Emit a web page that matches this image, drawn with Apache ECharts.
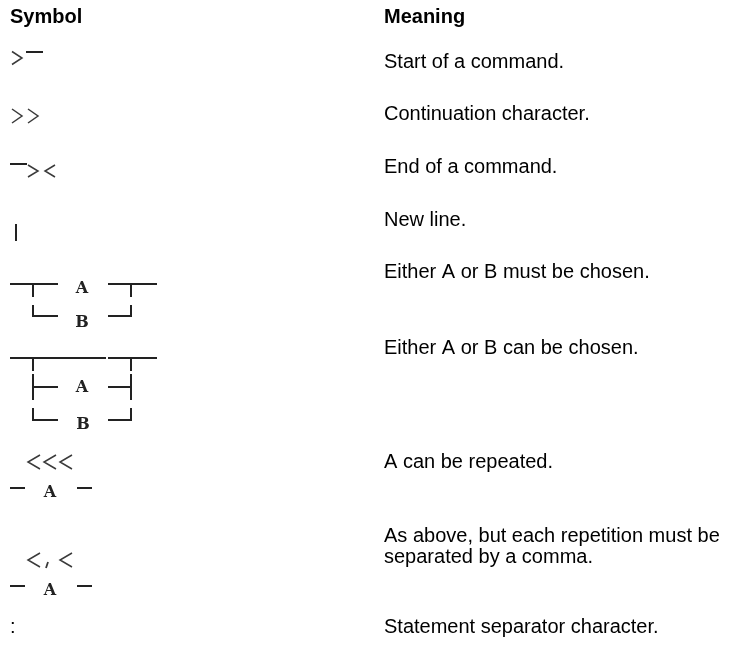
<!DOCTYPE html>
<html>
<head>
<meta charset="utf-8">
<script src="https://cdn.jsdelivr.net/npm/echarts@6/dist/echarts.min.js"></script>
<style>
html,body{margin:0;padding:0;background:#fff;}
#c{width:744px;height:670px;}
</style>
</head>
<body>
<div id="c"></div>
<script>
// ---- data ----
const headers = ['Symbol', 'Meaning'];
const symbolIds = ['start', 'continue', 'end', 'newline', 'mustChoose', 'canChoose', 'repeat', 'repeatComma', 'separator'];
const meanings = [
  'Start of a command.',
  'Continuation character.',
  'End of a command.',
  'New line.',
  'Either A or B must be chosen.',
  'Either A or B can be chosen.',
  'A can be repeated.',
  'As above, but each repetition must be\nseparated by a comma.',
  'Statement separator character.'
];
const optionLetters = ['A', 'B'];

// ---- layout ----
const rowY = [62, 114, 167, 220, 272, 348, 462, 547, 627];
const TEXT_X = 384;
const FONT = "'Liberation Sans', Arial, sans-serif";
const INK = '#222';
const CHEV = '#3a3a3a';

const g = [];
function line(pts, w, col) {
  g.push({type: 'polyline', shape: {points: pts}, style: {stroke: col || INK, lineWidth: w || 2, fill: null}});
}
function chevR(x, y, w, h) { line([[x, y - h / 2], [x + w, y], [x, y + h / 2]], 1.5, CHEV); }
function chevL(x, y, w, h) { line([[x + w, y - h / 2], [x, y], [x + w, y + h / 2]], 1.5, CHEV); }
function letter(t, x, y) {
  g.push({type: 'text', x: x, y: y, style: {text: t, fill: INK, font: "bold 16px 'DejaVu Serif', serif", align: 'center', verticalAlign: 'middle'}});
}

// headers
g.push({type: 'text', x: 10, y: 17, style: {text: headers[0], fill: '#000', font: 'bold 20px ' + FONT, verticalAlign: 'middle'}});
g.push({type: 'text', x: TEXT_X, y: 17, style: {text: headers[1], fill: '#000', font: 'bold 20px ' + FONT, verticalAlign: 'middle'}});

// meanings
meanings.forEach(function (m, i) {
  g.push({type: 'text', x: TEXT_X, y: rowY[i], style: {text: m, fill: '#000', font: '20px ' + FONT, lineHeight: 21, verticalAlign: 'middle'}});
});

// symbols
symbolIds.forEach(function (id, i) {
  const y = rowY[i];
  if (id === 'start') {
    chevR(12, y - 4, 10, 13);
    line([[26, y - 10], [43, y - 10]]);
  } else if (id === 'continue') {
    chevR(12, y + 2, 10, 14);
    chevR(28, y + 2, 10, 14);
  } else if (id === 'end') {
    line([[10, y - 3], [27, y - 3]]);
    chevR(28, y + 4, 10, 12);
    chevL(45, y + 4, 10, 12);
  } else if (id === 'newline') {
    line([[16, y + 4], [16, y + 21]]);
  } else if (id === 'mustChoose') {
    const t = y + 12;
    line([[10, t], [58, t]]); line([[108, t], [157, t]]);
    line([[33, t], [33, t + 13]]); line([[131, t], [131, t + 13]]);
    line([[33, t + 21], [33, t + 32], [58, t + 32]]);
    line([[108, t + 32], [131, t + 32], [131, t + 21]]);
    letter(optionLetters[0], 82, t + 5);
    letter(optionLetters[1], 82, t + 39);
  } else if (id === 'canChoose') {
    const t = y + 10;
    line([[10, t], [106, t]]); line([[108, t], [157, t]]);
    line([[33, t], [33, t + 13]]); line([[131, t], [131, t + 13]]);
    line([[33, t + 16], [33, t + 42]]); line([[131, t + 16], [131, t + 42]]);
    line([[33, t + 29], [58, t + 29]]); line([[108, t + 29], [131, t + 29]]);
    line([[33, t + 50], [33, t + 62], [58, t + 62]]);
    line([[108, t + 62], [131, t + 62], [131, t + 50]]);
    letter(optionLetters[0], 82, t + 30);
    letter(optionLetters[1], 83, t + 67);
  } else if (id === 'repeat') {
    chevL(28, y, 12, 14); chevL(44, y, 12, 14); chevL(60, y, 12, 14);
    line([[10, y + 26], [25, y + 26]]); line([[77, y + 26], [92, y + 26]]);
    letter(optionLetters[0], 50, y + 31);
  } else if (id === 'repeatComma') {
    const c = y + 13;
    chevL(28, c, 12, 14); chevL(60, c, 12, 14);
    line([[48, c + 2], [46, c + 8]], 1.8, CHEV);
    line([[10, c + 26], [25, c + 26]]); line([[77, c + 26], [92, c + 26]]);
    letter(optionLetters[0], 50, c + 31);
  } else if (id === 'separator') {
    g.push({type: 'text', x: 10, y: y, style: {text: ':', fill: '#000', font: '20px ' + FONT, verticalAlign: 'middle'}});
  }
});

const chart = echarts.init(document.getElementById('c'), null, {renderer: 'canvas'});
chart.setOption({backgroundColor: '#fff', animation: false, graphic: {elements: g}});
</script>
</body>
</html>
